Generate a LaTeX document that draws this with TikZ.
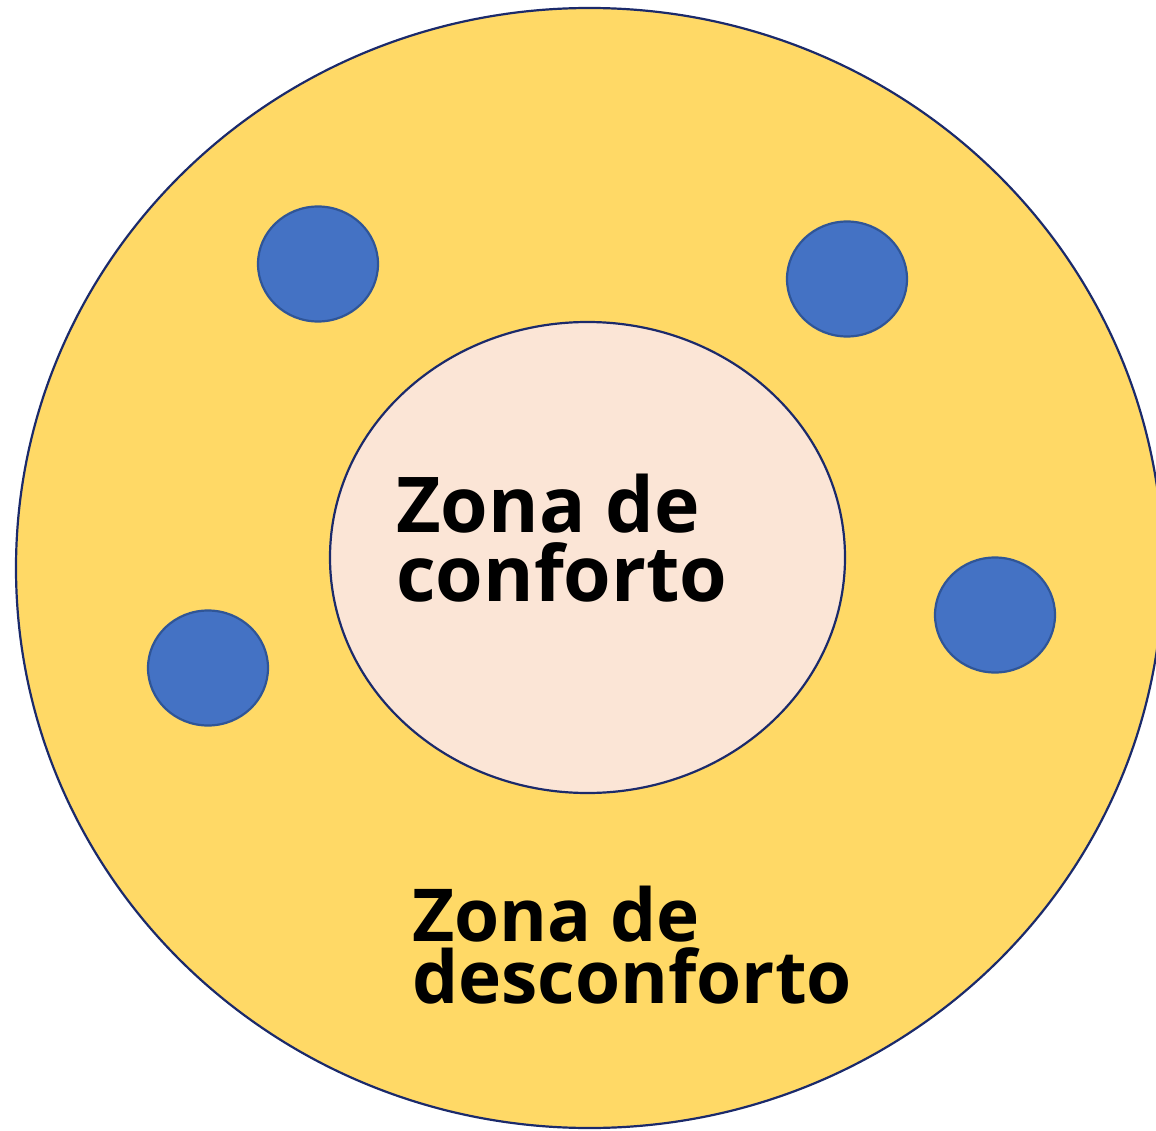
\documentclass[tikz,border=0pt]{standalone}
\usepackage{fontspec}
\usetikzlibrary{shapes.geometric}
\setmainfont{Open Sans}
\definecolor{outerfill}{HTML}{FFD966}
\definecolor{navyline}{HTML}{1B2A6B}
\definecolor{innerfill}{HTML}{FBE5D6}
\definecolor{dotfill}{HTML}{4472C4}
\definecolor{dotline}{HTML}{2F5597}
\begin{document}
\begin{tikzpicture}[x=1pt,y=-1pt,
  zone/.style={fill=#1,draw=navyline,line width=2.2pt},
  dot/.style={ellipse,fill=dotfill,draw=dotline,line width=2.2pt,minimum width=120pt,minimum height=115pt,inner sep=0pt},
  lab/.style 2 args={anchor=base west,inner sep=0pt,align=left,font=\bfseries\fontsize{#1}{#2}\selectfont}]
\useasboundingbox (0,0) rectangle (1156,1131);
\clip (0,0) rectangle (1156,1131);
\coordinate (outer) at (589.5,568);
\filldraw[zone=outerfill] (outer) ellipse [x radius=573.5,y radius=560];
\coordinate (inner) at (587.5,557.5);
\filldraw[zone=innerfill] (inner) ellipse [x radius=257.5,y radius=235.5];
\node[dot] (d1) at (318,264) {};
\node[dot] (d2) at (847,279) {};
\node[dot] (d3) at (208,668) {};
\node[dot] (d4) at (995,615) {};
\node[lab={77}{69}] (comfort) at (396,601) {Zona de\\conforto};
\node[lab={73}{62}] (discomfort) at (412,1003) {Zona de\\desconforto};
\end{tikzpicture}
\end{document}
